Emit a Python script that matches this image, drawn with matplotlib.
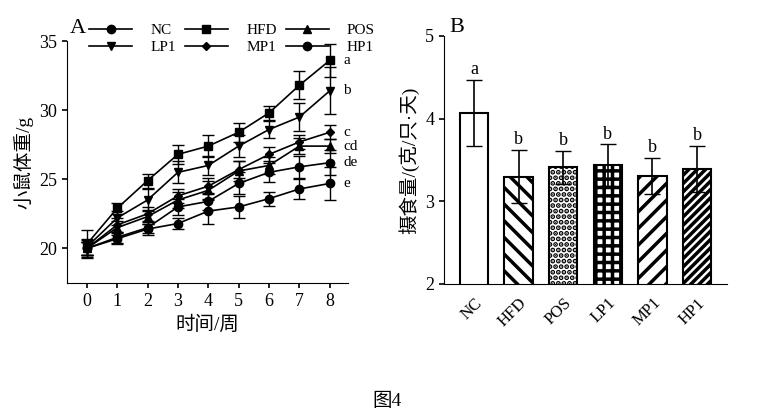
import matplotlib
matplotlib.use('Agg')
import matplotlib.pyplot as plt
from matplotlib.lines import Line2D
import numpy as np

plt.rcParams['font.family'] = ['Liberation Serif', 'Noto Sans CJK SC']
plt.rcParams['hatch.linewidth'] = 2.5

weeks = np.arange(9)
groups = ['NC', 'HFD', 'POS', 'LP1', 'MP1', 'HP1']
weight = {
    'NC':  [20.0, 20.8, 21.5, 23.0, 23.4, 24.7, 25.5, 25.9, 26.2],
    'HFD': [20.3, 22.9, 24.9, 26.8, 27.4, 28.4, 29.8, 31.8, 33.6],
    'POS': [20.0, 21.5, 22.3, 23.5, 24.2, 25.6, 26.0, 27.4, 27.4],
    'LP1': [20.1, 22.2, 23.5, 25.5, 26.0, 27.4, 28.6, 29.5, 31.4],
    'MP1': [20.0, 21.7, 22.5, 23.8, 24.5, 25.7, 26.8, 27.7, 28.4],
    'HP1': [20.0, 20.7, 21.4, 21.8, 22.7, 23.0, 23.6, 24.3, 24.7],
}
weight_err = {
    'NC':  [0.6, 0.4, 0.4, 0.6, 0.6, 0.8, 0.7, 0.8, 0.9],
    'HFD': [1.0, 0.4, 0.5, 0.7, 0.8, 0.7, 0.5, 1.0, 1.2],
    'POS': [0.5, 0.5, 0.5, 0.6, 0.7, 0.7, 0.6, 0.6, 0.5],
    'LP1': [0.6, 0.5, 0.8, 0.8, 0.7, 0.8, 0.6, 1.0, 1.7],
    'MP1': [0.5, 0.5, 0.5, 0.5, 0.6, 0.6, 0.5, 0.5, 0.5],
    'HP1': [0.5, 0.4, 0.4, 0.4, 0.9, 0.8, 0.5, 0.7, 1.2],
}
markers = {'NC': 'o', 'HFD': 's', 'POS': '^', 'LP1': 'v', 'MP1': 'D', 'HP1': 'o'}
msizes = {'NC': 6, 'HFD': 6, 'POS': 6, 'LP1': 6, 'MP1': 4, 'HP1': 6}
end_letters = ['a', 'b', 'c', 'cd', 'de', 'e']
end_letter_y = [33.6, 31.4, 28.4, 27.4, 26.2, 24.7]

intake = [4.07, 3.30, 3.41, 3.44, 3.31, 3.39]
intake_err = [0.40, 0.32, 0.20, 0.25, 0.22, 0.28]
intake_letters = ['a', 'b', 'b', 'b', 'b', 'b']
hatches = ['', '\\\\', '...', '++', '//', '////']

fig = plt.figure(figsize=(7.74, 4.19), dpi=100)

# panel A
ax = fig.add_axes([67/774, 1-283/419, 281/774, 242/419])
for g in groups:
    ax.errorbar(weeks, weight[g], yerr=weight_err[g], color='black', marker=markers[g],
                ms=msizes[g], lw=1.2, capsize=4, elinewidth=1)
for t, yv in zip(end_letters, end_letter_y):
    ax.text(8.45, yv, t, fontsize=11, va='center', ha='left')
ax.set_xlim(-0.65, 8.6)
ax.set_ylim(17.5, 35)
ax.set_xticks(weeks)
ax.set_yticks([20, 25, 30, 35])
ax.spines['top'].set_visible(False)
ax.spines['right'].set_visible(False)
ax.tick_params(direction='out', labelsize=13, width=1.2)
ax.set_xlabel('时间/周', fontsize=14)
ax.set_ylabel('小鼠体重/g', fontsize=14)

# legend handles without error bars
handles = [Line2D([], [], color='black', marker=markers[g], ms=msizes[g], lw=1.2) for g in groups]
order = [0, 3, 1, 4, 2, 5]
ax.legend([handles[i] for i in order], [groups[i] for i in order], ncol=3, frameon=False,
          loc='upper left', bbox_to_anchor=(0.03, 1.13), fontsize=11, handlelength=2.8,
          columnspacing=0.6, labelspacing=0.25, handletextpad=1.2)
ax.text(-0.55, 35.6, 'A', fontsize=16)

# panel B
bx = fig.add_axes([444/774, 1-284/419, 283/774, 248/419])
x = np.arange(len(groups))
bars = bx.bar(x, intake, width=0.63, color='white', edgecolor='black', linewidth=1.5)
for b, h in zip(bars, hatches):
    b.set_hatch(h)
bx.errorbar(x, intake, yerr=intake_err, fmt='none', ecolor='black', capsize=6, elinewidth=1.2)
for xi, v, e, t in zip(x, intake, intake_err, intake_letters):
    bx.text(xi, v + e + 0.02, t, ha='center', va='bottom', fontsize=13)
bx.set_xlim(-0.67, 5.67)
bx.set_ylim(2, 5)
bx.set_yticks([2, 3, 4, 5])
bx.set_xticks(x)
bx.set_xticklabels(groups, rotation=45, ha='right', rotation_mode='anchor')
bx.tick_params(axis='x', length=0, labelsize=12, pad=8)
bx.tick_params(axis='y', direction='out', labelsize=13, width=1.2)
bx.spines['top'].set_visible(False)
bx.spines['right'].set_visible(False)
bx.set_ylabel('摄食量/(克/只·天)', fontsize=14)
bx.text(-0.55, 5.05, 'B', fontsize=16)

fig.text(0.5, 0.03, '图4', ha='center', fontsize=14)
fig.savefig('out.png', dpi=100)
